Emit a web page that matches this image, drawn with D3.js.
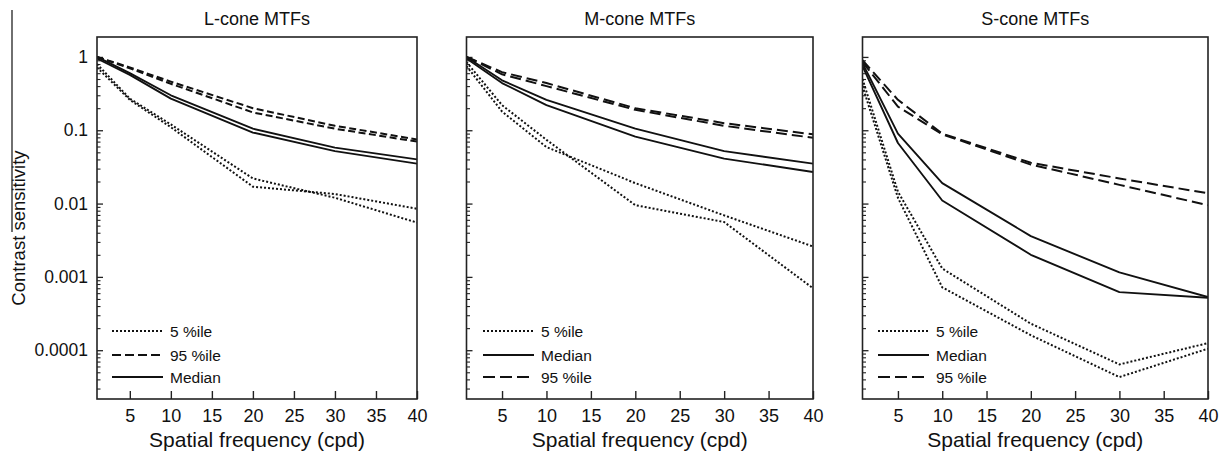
<!DOCTYPE html>
<html><head><meta charset="utf-8">
<script src="https://cdn.jsdelivr.net/npm/d3@7"></script>
<style>
body{margin:0;background:#fff}
svg{display:block}
text{font-family:"Liberation Sans",Arial,Helvetica,sans-serif;fill:#111}
</style>
</head><body>
<svg id="chart" width="1226" height="459"></svg>
<script>
// ---------- data ----------
const freq = [1, 5, 10, 20, 30, 40];
const panelTitles = ["L-cone MTFs", "M-cone MTFs", "S-cone MTFs"];
const xTickValues = [5, 10, 15, 20, 25, 30, 35, 40];
const yMajorTicks = [1, 0.1, 0.01, 0.001, 0.0001];
const yTickLabels = ["1", "0.1", "0.01", "0.001", "0.0001"];
const xAxisTitle = "Spatial frequency (cpd)";
const yAxisTitle = "Contrast sensitivity";

// L-cone
const L_p5_a  = [0.80, 0.27, 0.12, 0.022, 0.012, 0.0055];
const L_p5_b  = [0.72, 0.26, 0.11, 0.017, 0.0135, 0.0085];
const L_med_a = [1.0, 0.60, 0.30, 0.105, 0.058, 0.040];
const L_med_b = [0.95, 0.57, 0.27, 0.093, 0.052, 0.035];
const L_p95_a = [1.0, 0.72, 0.46, 0.20, 0.115, 0.075];
const L_p95_b = [1.0, 0.70, 0.43, 0.175, 0.105, 0.070];
// M-cone
const M_p5_a  = [0.85, 0.22, 0.074, 0.0095, 0.0056, 0.0007];
const M_p5_b  = [0.75, 0.18, 0.059, 0.019, 0.0069, 0.0026];
const M_med_a = [1.0, 0.48, 0.26, 0.105, 0.052, 0.035];
const M_med_b = [0.95, 0.44, 0.22, 0.082, 0.041, 0.027];
const M_p95_a = [1.0, 0.62, 0.44, 0.20, 0.125, 0.088];
const M_p95_b = [1.0, 0.58, 0.40, 0.19, 0.115, 0.079];
// S-cone
const S_p5_a  = [0.50, 0.0145, 0.0013, 0.00023, 0.000064, 0.000125];
const S_p5_b  = [0.40, 0.012, 0.00072, 0.00016, 0.000043, 0.000105];
const S_med_a = [0.82, 0.090, 0.019, 0.0036, 0.00115, 0.00053];
const S_med_b = [0.75, 0.067, 0.011, 0.0020, 0.00062, 0.00052];
const S_p95_a = [0.90, 0.26, 0.090, 0.036, 0.022, 0.0138];
const S_p95_b = [0.85, 0.21, 0.088, 0.034, 0.018, 0.0095];

const legendL = ["5 %ile", "95 %ile", "Median"];
const legendMS = ["5 %ile", "Median", "95 %ile"];

// ---------- layout ----------
const svg = d3.select("#chart");
const plotTop = 37, plotBottom = 399;
const y = d3.scaleLog().domain([2.16e-5, 1.87]).range([plotBottom, plotTop]);
const minorTicks = [];
[1e-5, 1e-4, 1e-3, 1e-2, 1e-1].forEach(d => { for (let k = 2; k <= 9; k++) { const v = d * k; if (v >= 2.16e-5 && v <= 1.87) minorTicks.push(v); } });

const styles = {
  p5:  {dash: "2,2", width: 2.0},
  med: {dash: null, width: 1.9},
};
const panels = [
  {title: panelTitles[0], x0: 97, x1: 417, labels: true, p95dash: "7,3.5", legDash: "9,4",
   series: [["p5", L_p5_a], ["p5", L_p5_b], ["med", L_med_a], ["med", L_med_b], ["p95", L_p95_a], ["p95", L_p95_b]],
   legend: [["p5", legendL[0]], ["p95", legendL[1]], ["med", legendL[2]]], legX: 112},
  {title: panelTitles[1], x0: 466.5, x1: 813, labels: false, p95dash: "11,5", legDash: "12,5",
   series: [["p5", M_p5_a], ["p5", M_p5_b], ["med", M_med_a], ["med", M_med_b], ["p95", M_p95_a], ["p95", M_p95_b]],
   legend: [["p5", legendMS[0]], ["med", legendMS[1]], ["p95", legendMS[2]]], legX: 483},
  {title: panelTitles[2], x0: 862.5, x1: 1208, labels: false, p95dash: "11,5", legDash: "12,5",
   series: [["p5", S_p5_a], ["p5", S_p5_b], ["med", S_med_a], ["med", S_med_b], ["p95", S_p95_a], ["p95", S_p95_b]],
   legend: [["p5", legendMS[0]], ["med", legendMS[1]], ["p95", legendMS[2]]], legX: 878},
];

panels.forEach(p => {
  const x = d3.scaleLinear().domain([1, 40]).range([p.x0, p.x1]);
  const g = svg.append("g");
  const dashOf = t => t === "p95" ? p.p95dash : styles[t].dash;

  const cid = "clip" + Math.round(p.x0);
  svg.append("clipPath").attr("id", cid).append("rect")
    .attr("x", p.x0).attr("y", plotTop).attr("width", p.x1 - p.x0).attr("height", plotBottom - plotTop);

  // y axis major
  const yAx = d3.axisLeft(y).tickValues(yMajorTicks).tickSize(-6).tickPadding(9)
    .tickFormat((d, i) => p.labels ? yTickLabels[i] : "");
  const ya = g.append("g").attr("transform", `translate(${p.x0},0)`).call(yAx);
  ya.select(".domain").remove();
  ya.selectAll("line").attr("stroke", "#222").attr("stroke-width", 1.3);
  ya.selectAll("text").attr("font-size", 17.5).style("font-family", "'Liberation Sans',Arial,sans-serif").attr("fill", "#111");
  // y axis minor
  const ym = g.append("g").attr("transform", `translate(${p.x0},0)`)
    .call(d3.axisLeft(y).tickValues(minorTicks).tickSize(-3.5).tickFormat(""));
  ym.select(".domain").remove();
  ym.selectAll("line").attr("stroke", "#222").attr("stroke-width", 1.1);

  // x axis
  const xAx = d3.axisBottom(x).tickValues(xTickValues).tickSize(-8).tickPadding(10).tickFormat(d3.format("d"));
  const xa = g.append("g").attr("transform", `translate(0,${plotBottom})`).call(xAx);
  xa.select(".domain").remove();
  xa.selectAll("line").attr("stroke", "#222").attr("stroke-width", 1.4);
  xa.selectAll("text").attr("font-size", 18).style("font-family", "'Liberation Sans',Arial,sans-serif").attr("fill", "#111");

  // lines
  const line = d3.line().x((d, i) => x(freq[i])).y(d => y(d));
  const lg = g.append("g").attr("clip-path", `url(#${cid})`);
  p.series.forEach(([t, vals]) => {
    lg.append("path").datum(vals).attr("d", line)
      .attr("fill", "none").attr("stroke", "#111")
      .attr("stroke-width", t === "p95" ? 2.0 : styles[t].width)
      .attr("stroke-dasharray", dashOf(t))
      .attr("stroke-linejoin", "round");
  });

  // frame
  g.append("rect").attr("x", p.x0).attr("y", plotTop).attr("width", p.x1 - p.x0).attr("height", plotBottom - plotTop)
    .attr("fill", "none").attr("stroke", "#222").attr("stroke-width", 1.6);

  // title
  g.append("text").attr("x", (p.x0 + p.x1) / 2).attr("y", 25).attr("text-anchor", "middle")
    .attr("font-size", 18).text(p.title);
  // x title
  g.append("text").attr("x", (p.x0 + p.x1) / 2).attr("y", 447).attr("text-anchor", "middle")
    .attr("font-size", 21).text(xAxisTitle);

  // legend
  const rowY = [331, 355, 377];
  p.legend.forEach(([t, label], i) => {
    g.append("line").attr("x1", p.legX).attr("x2", p.legX + 51).attr("y1", rowY[i]).attr("y2", rowY[i])
      .attr("stroke", "#111").attr("stroke-width", 2).attr("stroke-dasharray", t === "p95" ? p.legDash : dashOf(t));
    g.append("text").attr("x", p.legX + 58).attr("y", rowY[i]).attr("dy", "0.36em")
      .attr("font-size", 15.5).text(label);
  });
});

// y axis title
svg.append("text").attr("transform", "translate(25,228) rotate(-90)").attr("text-anchor", "middle")
  .attr("font-size", 18.5).text(yAxisTitle);
// stray vertical rule at far left
svg.append("line").attr("x1", 12).attr("x2", 12).attr("y1", 10).attr("y2", 232)
  .attr("stroke", "#222").attr("stroke-width", 1.3);
</script>
</body></html>
